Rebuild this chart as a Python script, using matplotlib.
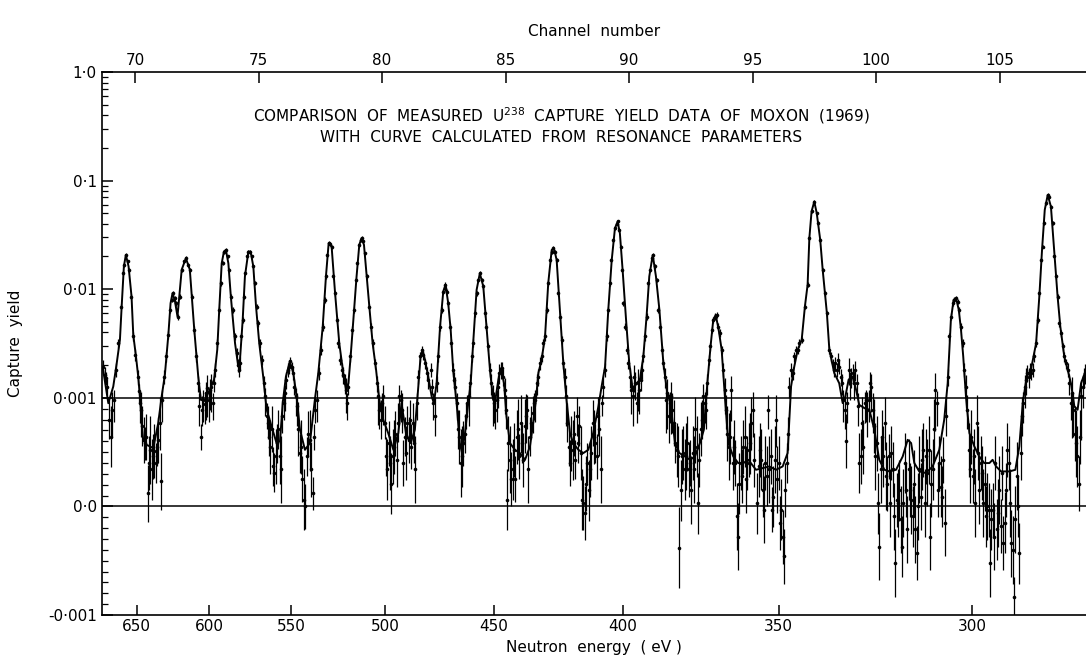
import numpy as np
import matplotlib
matplotlib.use("Agg")
import matplotlib.pyplot as plt

# calculated curve: channel number, capture yield (units of 1e-3)
curve_ch = [68.71, 68.92, 69.12, 69.26, 69.39, 69.46, 69.55, 69.63, 69.74, 69.86, 69.93, 70.04,
            70.13, 70.20, 70.27, 70.33, 70.47, 70.74, 70.94, 71.08, 71.21, 71.35, 71.44, 71.52,
            71.62, 71.72, 71.89, 72.06, 72.22, 72.40, 72.56, 72.67, 72.83, 73.03, 73.20, 73.33,
            73.41, 73.51, 73.60, 73.68, 73.78, 73.88, 74.05, 74.18, 74.25, 74.36, 74.45, 74.59,
            74.68, 74.79, 74.90, 75.03, 75.19, 75.33, 75.53, 75.73, 75.87, 75.98, 76.11, 76.27,
            76.41, 76.54, 76.68, 76.88, 77.08, 77.28, 77.42, 77.60, 77.73, 77.84, 77.96, 78.10,
            78.27, 78.43, 78.54, 78.64, 78.73, 78.87, 78.97, 79.08, 79.17, 79.27, 79.38, 79.51,
            79.62, 79.76, 79.89, 80.05, 80.25, 80.46, 80.66, 80.79, 80.97, 81.16, 81.33, 81.47,
            81.56, 81.64, 81.74, 81.87,
            82.01, 82.10, 82.21, 82.35, 82.48, 82.57, 82.68, 82.78, 82.88, 83.02, 83.15, 83.24,
            83.36, 83.49, 83.59, 83.69, 83.83, 83.96, 84.10, 84.23, 84.37, 84.50, 84.61, 84.71,
            84.81, 84.94, 85.04, 85.18, 85.38, 85.58, 85.79, 85.99, 86.12, 86.23, 86.33, 86.46,
            86.60, 86.73, 86.87, 86.96, 87.07, 87.21, 87.34, 87.47, 87.61, 87.74, 87.95, 88.15,
            88.35, 88.55, 88.76, 88.89, 89.03, 89.16, 89.30, 89.43, 89.54, 89.63, 89.74, 89.88,
            90.01, 90.15, 90.31, 90.44, 90.58, 90.71, 90.82, 90.96, 91.09, 91.23, 91.39, 91.55,
            91.68, 91.86, 92.04, 92.27, 92.47, 92.67, 92.87, 93.03, 93.17, 93.30, 93.41, 93.51,
            93.63, 93.75, 93.88, 94.02, 94.22, 94.42, 94.63, 94.83,
            95.14, 95.41, 95.68, 95.95, 96.22, 96.42, 96.56, 96.69, 96.83, 96.99, 97.12, 97.23,
            97.30, 97.39, 97.50, 97.60, 97.74, 97.84, 97.93, 98.01, 98.11, 98.31, 98.51, 98.65,
            98.76, 98.89, 99.05, 99.19, 99.32, 99.53, 99.73, 99.93, 100.13, 100.34, 100.54, 100.81,
            101.08, 101.28, 101.42, 101.55, 101.75, 102.02, 102.29, 102.56, 102.76, 102.90, 103.03,
            103.14, 103.24, 103.35, 103.44, 103.53, 103.64, 103.78, 103.98, 104.18, 104.38, 104.59,
            104.72, 104.86, 105.06, 105.40, 105.64, 105.80, 105.94, 106.10, 106.27, 106.48, 106.61,
            106.72, 106.83, 106.95, 107.08, 107.22, 107.35, 107.46, 107.62, 107.76, 107.89, 108.03,
            108.16, 108.30, 108.50]
curve_y = [1.81, 0.95, 1.27, 2.08, 3.42, 6.92, 16.2, 20.7, 16.2, 8.56, 3.80, 2.40,
           1.57, 1.03, 0.767, 0.613, 0.567, 0.537, 0.767, 1.03, 1.63, 3.80, 7.43, 9.19,
           7.7, 5.60, 15.1, 19.3, 15.1, 4.22, 1.57, 0.98, 0.98, 1.19, 1.47, 2.77,
           6.45, 17.3, 22.2, 23.0, 17.3, 8.56, 3.18, 1.94, 2.24, 5.22, 13.1, 22.2,
           22.2, 16.2, 6.92, 3.18, 1.57, 0.89, 0.736, 0.583, 0.60, 0.951, 1.57, 2.16,
           1.69, 1.03, 0.706, 0.521, 0.583, 0.98, 1.69, 4.53, 13.1, 26.5, 24.7, 9.19,
           3.18, 1.69, 1.19, 1.36, 2.40, 6.45, 13.1, 25.6, 29.5, 25.6, 13.1, 6.01,
           3.18, 1.81, 0.98, 0.798, 0.675, 0.521, 0.675, 0.951, 0.675, 0.583, 0.706, 1.27,
           2.40, 2.77, 2.24, 1.57,
           1.03, 0.951, 1.36, 4.53, 9.5, 11.0, 7.43, 4.22, 1.81, 0.951, 0.583, 0.491,
           0.675, 0.951, 1.36, 3.18, 9.86, 14.0, 10.6, 4.53, 1.81, 0.98, 1.03, 1.47,
           1.87, 1.36, 0.828, 0.583, 0.521, 0.491, 0.429, 0.552, 0.767, 0.98, 1.69, 2.24,
           3.67, 11.4, 23.0, 23.8, 18.6, 6.01, 2.08, 0.98, 0.675, 0.583, 0.521, 0.491,
           0.521, 0.675, 0.92, 1.27, 1.94, 6.45, 18.6, 36.4, 42.0, 32.7, 15.1, 5.22,
           2.08, 1.19, 1.36, 1.47, 2.40, 5.60, 13.1, 20.7, 13.1, 6.45, 2.08, 1.10,
           0.951, 0.583, 0.491, 0.460, 0.429, 0.460, 0.583, 0.706, 1.36, 2.97, 5.22, 5.80,
           4.22, 2.77, 1.03, 0.583, 0.460, 0.399, 0.399, 0.429,
           0.337, 0.353, 0.368, 0.337, 0.368, 0.491, 1.27, 1.94, 2.77, 3.42, 6.92, 11.0,
           29.5, 52.0, 64.1, 50.0, 28.5, 15.1, 9.19, 6.01, 2.77, 1.69, 1.36, 0.951,
           1.03, 1.47, 1.57, 1.19, 0.935, 0.905, 0.890, 0.706, 0.429, 0.337, 0.322, 0.337,
           0.460, 0.613, 0.583, 0.399, 0.322, 0.307, 0.368, 0.521, 0.798, 1.36, 5.22,
           7.98, 8.26, 6.45, 4.22, 2.40, 1.03, 0.675, 0.552, 0.460, 0.399, 0.399,
           0.429, 0.368, 0.322, 0.322, 0.337, 0.552, 0.951, 1.57, 1.81, 3.18, 8.56,
           23.0, 53.7, 73.8, 57.6, 21.4, 8.56, 4.53, 2.40, 1.81, 1.36, 0.92,
           0.89, 1.36, 1.81]

# measured points (Moxon 1969): channel, yield and error (units of 1e-3)
meas_ch = [68.71, 68.77, 68.83, 68.88, 68.94, 69.01, 69.07, 69.15, 69.23, 69.32, 69.43, 69.50,
           69.57, 69.63, 69.70, 69.77, 69.85, 69.93, 70.01, 70.11, 70.16, 70.22, 70.26, 70.30,
           70.35, 70.40, 70.46, 70.51, 70.57, 70.62, 70.67, 70.73, 70.78, 70.84, 70.89, 70.94,
           71.00, 71.04, 71.10, 71.18, 71.25, 71.33, 71.41, 71.48, 71.54, 71.60, 71.67, 71.74,
           71.82, 71.90, 71.98, 72.06, 72.14, 72.22, 72.31, 72.39, 72.47, 72.55, 72.60, 72.66,
           72.71, 72.76, 72.82, 72.87, 72.93, 72.98, 73.03, 73.09, 73.14, 73.20, 73.25, 73.33,
           73.41, 73.48, 73.55, 73.62, 73.68, 73.75, 73.82, 73.88, 73.95, 74.03, 74.11, 74.17,
           74.21, 74.26, 74.30, 74.36, 74.41, 74.46, 74.52, 74.59, 74.65, 74.72, 74.79, 74.86,
           74.92, 74.99, 75.06, 75.14, 75.22, 75.27, 75.33, 75.37, 75.42, 75.48, 75.53, 75.58,
           75.64, 75.69, 75.75, 75.80, 75.86, 75.91, 75.96, 76.02, 76.07, 76.13, 76.18, 76.23,
           76.29, 76.34, 76.40, 76.45, 76.50, 76.56, 76.61, 76.66, 76.72, 76.77, 76.83, 76.88,
           76.95, 77.02, 77.08, 77.14, 77.19, 77.25, 77.30, 77.35, 77.43, 77.51, 77.60, 77.68,
           77.73, 77.79, 77.84, 77.89, 77.96, 78.03, 78.10, 78.16, 78.23, 78.30, 78.38, 78.43,
           78.49, 78.54, 78.59, 78.63, 78.70, 78.78, 78.86, 78.95, 79.00, 79.08, 79.13, 79.19,
           79.24, 79.31, 79.38, 79.46, 79.54, 79.62, 79.70, 79.78, 79.84, 79.89, 79.94, 80.00,
           80.05, 80.11, 80.16, 80.21, 80.27, 80.32, 80.38, 80.43, 80.48, 80.54, 80.59, 80.65,
           80.70, 80.75, 80.81, 80.86, 80.92, 80.97, 81.02, 81.08, 81.13, 81.18, 81.24, 81.29,
           81.35, 81.40, 81.47, 81.54, 81.60, 81.67, 81.74, 81.81, 81.87,
           81.97, 82.02, 82.07, 82.13, 82.21, 82.28, 82.34, 82.41, 82.48, 82.53, 82.57, 82.63,
           82.68, 82.75, 82.80, 82.86, 82.91, 82.97, 83.02, 83.07, 83.13, 83.18, 83.24, 83.29,
           83.34, 83.40, 83.45, 83.51, 83.56, 83.63, 83.69, 83.76, 83.83, 83.90, 83.96, 84.03,
           84.10, 84.17, 84.23, 84.30, 84.37, 84.42, 84.48, 84.53, 84.59, 84.64, 84.69, 84.75,
           84.80, 84.85, 84.91, 84.96, 85.02, 85.07, 85.12, 85.18, 85.23, 85.29, 85.34, 85.39,
           85.45, 85.50, 85.56, 85.61, 85.66, 85.72, 85.77, 85.83, 85.88, 85.93, 85.99, 86.04,
           86.10, 86.15, 86.20, 86.26, 86.33, 86.39, 86.46, 86.53, 86.60, 86.66, 86.73, 86.80,
           86.87, 86.93, 87.00, 87.07, 87.14, 87.20, 87.27, 87.34, 87.39, 87.45, 87.50, 87.55,
           87.61, 87.66, 87.72, 87.77, 87.82, 87.88, 87.93, 87.99, 88.04, 88.09, 88.15, 88.20,
           88.26, 88.31, 88.36, 88.42, 88.47, 88.53, 88.58, 88.63, 88.69, 88.74, 88.80, 88.85,
           88.90, 88.96, 89.02, 89.09, 89.16, 89.23, 89.29, 89.36, 89.43, 89.50, 89.55, 89.61,
           89.66, 89.71, 89.77, 89.83, 89.90, 89.97, 90.04, 90.09, 90.15, 90.20, 90.25, 90.31,
           90.36, 90.41, 90.47, 90.52, 90.58, 90.64, 90.71, 90.78, 90.85, 90.91, 90.98, 91.05,
           91.12, 91.18, 91.25, 91.32, 91.39, 91.44, 91.49, 91.55, 91.60, 91.66, 91.71, 91.76,
           91.82, 91.87, 91.93, 91.98, 92.03, 92.09, 92.14, 92.20, 92.25, 92.30, 92.36, 92.41,
           92.47, 92.52, 92.57, 92.63, 92.68, 92.74, 92.79, 92.84, 92.90, 92.95, 93.01, 93.06,
           93.11, 93.17, 93.22, 93.28, 93.34, 93.41, 93.48, 93.55, 93.61, 93.68, 93.75, 93.82,
           93.87, 93.92, 93.98, 94.03, 94.09, 94.14, 94.19, 94.25, 94.30, 94.36, 94.41, 94.46,
           94.52, 94.57, 94.63, 94.68, 94.73, 94.79, 94.84, 94.90, 94.95, 95.00, 95.06,
           95.19, 95.25, 95.30, 95.36, 95.41, 95.46, 95.52, 95.57, 95.63, 95.68, 95.73, 95.79,
           95.84, 95.90, 95.95, 96.00, 96.06, 96.11, 96.17, 96.22, 96.27, 96.33, 96.38, 96.44,
           96.49, 96.56, 96.62, 96.69, 96.76, 96.83, 96.89, 96.99, 97.12, 97.23, 97.30, 97.39,
           97.50, 97.60, 97.66, 97.74, 97.84, 97.93, 98.01, 98.11, 98.18, 98.24, 98.30, 98.35,
           98.41, 98.46, 98.51, 98.57, 98.62, 98.68, 98.73, 98.78, 98.84, 98.89, 98.95, 99.00,
           99.05, 99.11, 99.16, 99.22, 99.27, 99.32, 99.38, 99.43, 99.49, 99.54, 99.59, 99.65,
           99.70, 99.76, 99.81, 99.86, 99.92, 99.97, 100.03, 100.08, 100.13, 100.19, 100.24,
           100.29, 100.35, 100.40, 100.46, 100.51, 100.56, 100.62, 100.67, 100.73, 100.78,
           100.83, 100.89, 100.94, 101.00, 101.05, 101.10, 101.16, 101.21, 101.27, 101.32,
           101.37, 101.43, 101.48, 101.54, 101.59, 101.64, 101.70, 101.75, 101.81, 101.86,
           101.91, 101.97, 102.02, 102.08, 102.13, 102.18, 102.24, 102.29, 102.35, 102.40,
           102.45, 102.51, 102.56, 102.62, 102.67, 102.72, 102.78, 102.83, 102.90, 102.97,
           103.03, 103.10, 103.17, 103.24, 103.30, 103.37, 103.44, 103.51, 103.57, 103.64,
           103.70, 103.75, 103.80, 103.86, 103.91, 103.97, 104.02, 104.07, 104.13, 104.18,
           104.24, 104.29, 104.34, 104.40, 104.45, 104.51, 104.56, 104.61, 104.67, 104.72,
           104.78, 104.83, 104.88, 104.94, 104.99, 105.05, 105.10, 105.15, 105.21, 105.26,
           105.32, 105.37, 105.42, 105.48, 105.53, 105.59, 105.64, 105.69, 105.75, 105.80,
           105.86, 105.91, 105.96, 106.02, 106.07, 106.12, 106.18, 106.23, 106.29, 106.34,
           106.41, 106.48, 106.54, 106.61, 106.68, 106.75, 106.81, 106.88, 106.95, 107.02,
           107.08, 107.15, 107.22, 107.29, 107.35, 107.42, 107.49, 107.56, 107.62, 107.69,
           107.76, 107.83, 107.88, 107.93, 107.99, 108.04, 108.10, 108.15, 108.20, 108.26,
           108.31, 108.37, 108.42, 108.47]
meas_y = [1.94, 1.63, 1.52, 1.27, 0.80, 0.64, 0.89, 0.98, 1.81, 3.18, 6.92, 14.0,
          16.7, 20.7, 18.0, 15.1, 8.56, 3.67, 2.49, 1.57, 1.15, 0.95, 0.89, 0.74,
          0.61, 0.58, 0.64, 0.12, 0.40, 0.52, 0.34, 0.46, 0.51, 0.40, 0.55, 0.61,
          0.77, 0.23, 0.98, 1.57, 2.40, 3.80, 6.45, 7.98, 9.19, 8.26, 7.43, 5.60,
          8.56, 15.1, 18.0, 19.3, 16.7, 15.1, 8.56, 4.22, 2.40, 1.36, 0.92, 0.64,
          0.89, 0.98, 0.94, 1.10, 1.22, 0.98, 1.19, 1.27, 0.95, 1.36, 1.81, 3.18,
          6.45, 11.4, 17.3, 22.2, 23.0, 20.0, 15.1, 8.56, 6.45, 3.67, 2.58, 2.01,
          1.81, 2.08, 3.67, 5.22, 8.56, 14.0, 20.0, 22.2, 22.2, 20.0, 16.2, 11.4,
          6.92, 4.86, 3.18, 2.24, 1.36, 1.03, 0.83, 0.77, 0.64, 0.55, 0.71, 0.37,
          0.31, 0.46, 0.58, 0.71, 0.46, 0.34, 0.83, 0.95, 1.10, 1.47, 1.81, 1.94,
          2.16, 1.94, 1.69, 1.27, 1.03, 0.92, 0.71, 0.49, 0.55, 0.25, 0.06, 0.0,
          0.46, 0.67, 0.61, 0.34, 0.12, 0.64, 0.89, 0.98, 1.69, 2.77, 4.53, 7.98,
          13.1, 20.7, 26.5, 26.0, 24.5, 13.1, 9.19, 5.22, 3.18, 2.24, 1.81, 1.63,
          1.36, 1.19, 0.95, 1.27, 2.40, 4.22, 6.45, 12.2, 17.3, 25.6, 28.5, 29.5,
          27.5, 21.4, 13.1, 6.92, 4.53, 3.18, 2.08, 1.36, 1.03, 0.89, 0.80, 0.95,
          1.03, 0.77, 0.46, 0.34, 0.58, 0.40, 0.21, 0.46, 0.55, 0.67, 0.43, 0.77,
          1.03, 0.98, 0.89, 0.40, 0.64, 0.49, 0.77, 0.61, 0.80, 0.55, 0.77, 0.58,
          0.34, 0.95, 1.57, 2.40, 2.77, 2.49, 2.08, 1.69, 1.47,
          1.81, 1.27, 0.95, 0.83, 1.36, 2.40, 4.53, 6.45, 9.5, 10.2, 11.0, 9.5,
          7.43, 4.53, 3.18, 1.81, 1.47, 1.27, 0.95, 0.71, 0.64, 0.40, 0.46, 0.58,
          0.67, 0.83, 0.95, 1.03, 1.36, 2.40, 3.18, 6.01, 9.19, 12.2, 14.0, 12.2,
          10.6, 6.01, 4.53, 2.97, 1.81, 1.36, 1.03, 0.95, 0.89, 0.98, 1.27, 1.69,
          1.81, 1.87, 1.57, 1.19, 0.89, 0.06, 0.58, 0.43, 0.25, 0.34, 0.52, 0.25,
          0.64, 0.71, 0.46, 0.77, 0.58, 0.43, 0.74, 0.83, 0.89, 0.34, 0.64, 0.77,
          0.86, 0.95, 0.98, 1.36, 1.57, 2.08, 2.40, 3.18, 3.67, 6.45, 11.4, 18.6,
          22.2, 23.8, 22.2, 18.6, 9.19, 5.60, 3.42, 2.08, 1.57, 1.03, 0.77, 0.55,
          0.40, 0.58, 0.52, 0.67, 0.43, 0.83, 0.58, 0.74, 0.49, 0.06, 0.03, -0.06,
          0.21, 0.40, 0.15, 0.34, 0.49, 0.77, 0.64, 0.58, 0.46, 0.83, 0.71, 0.34,
          0.95, 1.27, 1.81, 3.67, 6.45, 11.4, 18.6, 28.5, 36.4, 40.0, 42.0, 35.0,
          24.7, 15.1, 7.43, 4.53, 2.77, 2.08, 1.57, 1.19, 1.03, 1.57, 1.36, 0.95,
          1.36, 1.19, 1.47, 1.81, 2.40, 3.67, 5.60, 11.4, 15.1, 19.3, 20.7, 16.2,
          12.2, 6.45, 4.53, 2.77, 2.08, 1.57, 0.98, 1.10, 0.83, 0.95, 1.03, 0.89,
          0.77, 0.58, 0.52, 0.46, -0.38, 0.15, 0.46, 0.49, 0.34, 0.46, 0.58, 0.34,
          0.40, 0.15, 0.49, 0.34, 0.71, 0.55, 0.03, 0.43, 0.71, 0.80, 1.03, 0.95,
          0.89, 1.36, 2.24, 2.97, 4.22, 5.22, 5.60, 5.80, 4.53, 3.94, 2.77, 1.81,
          1.19, 0.89, 0.67, 0.55, 0.64, 1.19, 0.40, 0.55, 0.40, -0.09, -0.28, 0.21,
          0.40, 0.28, 0.55, 0.64, 0.25, 0.40, 0.52, 0.58, 0.77, 0.89, 0.43,
          0.03, 0.37, 0.52, 0.43, 0.15, -0.03, 0.40, 0.28, 0.89, 0.34, 0.46, -0.03,
          0.09, 0.43, 0.80, 0.25, 0.40, -0.15, -0.03, -0.28, -0.46, 0.15, 0.40, 0.67,
          1.27, 1.81, 1.69, 2.40, 2.77, 2.77, 3.18, 3.42, 6.92, 11.0, 29.5, 52.0,
          64.1, 50.0, 40.6, 28.5, 15.1, 9.19, 6.01, 2.77, 2.40, 2.08, 1.81, 2.08,
          1.81, 2.24, 1.94, 1.57, 1.36, 0.98, 0.89, 0.60, 0.95, 1.81, 1.36, 1.57,
          1.69, 1.36, 1.81, 1.36, 0.92, 0.40, 0.46, 0.77, 0.55, 0.95, 0.98, 0.89,
          0.98, 1.36, 1.27, 0.89, 0.74, 0.46, 0.58, 0.03, -0.37, 0.34, 0.64,
          0.46, 0.77, 0.28, 0.21, 0.46, 0.03, 0.49, 0.34, -0.09, -0.52,
          0.06, 0.03, 0.15, -0.12, -0.37, 0.03, 0.40, 0.15, -0.21, 0.34,
          0.15, 0.06, -0.09, 0.21, -0.21, -0.43, 0.0, 0.34, 0.09, 0.43,
          0.52, 0.03, 0.46, 0.31, 0.52, -0.28, 0.21, 0.34, 0.71, 1.19,
          0.95, 0.15, 0.40, 0.18, 0.09, 0.43, -0.15, 0.83, 1.57, 3.67,
          5.60, 7.43, 7.98, 8.26, 7.7, 6.45, 4.53, 3.18, 1.81, 1.27,
          0.89, 0.52, 0.34, 0.64, 0.28, 0.46, 0.03, 0.77, 0.49, 0.15,
          0.40, 0.31, 0.03, 0.21, -0.09, 0.0, -0.03, -0.52, -0.12, -0.03,
          -0.28, 0.40, -0.21, -0.06, 0.15, -0.18, 0.31, -0.34, -0.15, 0.15,
          0.52, 0.40, 0.03, -0.34, -0.40, -0.83, -0.12, 0.28, 0.0, -0.43,
          0.49, 0.83, 0.95, 1.27, 1.47, 1.69, 1.57, 1.81, 1.69, 1.81,
          2.40, 3.18, 5.22, 9.19, 18.6, 24.7, 40.6, 62.0, 73.8, 71.2,
          57.6, 40.6, 20.0, 13.1, 8.56, 4.86, 3.94, 2.97, 2.40, 2.08,
          1.81, 1.36, 0.95, 1.10, 0.89, 0.67, 0.58, 0.46, 0.21, 0.64,
          1.03, 1.27, 1.57, 1.69]
meas_err = [0.27, 0.29, 0.21, 0.22, 0.18, 0.28, 0.25, 0.2, 0.26, 0.3, 0.4, 0.6,
            0.7, 0.8, 0.7, 0.6, 0.5, 0.35, 0.3, 0.25, 0.2, 0.18, 0.25, 0.18,
            0.21, 0.15, 0.21, 0.26, 0.25, 0.31, 0.28, 0.21, 0.25, 0.18, 0.18, 0.21,
            0.25, 0.26, 0.2, 0.22, 0.25, 0.3, 0.4, 0.4, 0.45, 0.4, 0.4, 0.35,
            0.4, 0.6, 0.7, 0.7, 0.6, 0.6, 0.45, 0.35, 0.25, 0.24, 0.18, 0.12,
            0.15, 0.2, 0.18, 0.3, 0.4, 0.2, 0.3, 0.4, 0.15, 0.24, 0.26, 0.27,
            0.45, 0.6, 0.7, 0.9, 0.9, 0.8, 0.6, 0.45, 0.4, 0.3, 0.27, 0.28,
            0.26, 0.29, 0.3, 0.35, 0.45, 0.6, 0.8, 0.9, 0.9, 0.8, 0.6, 0.5,
            0.4, 0.35, 0.28, 0.25, 0.24, 0.2, 0.12, 0.15, 0.18, 0.25, 0.21, 0.18,
            0.18, 0.25, 0.18, 0.18, 0.25, 0.31, 0.15, 0.15, 0.22, 0.26, 0.26, 0.27,
            0.23, 0.2, 0.24, 0.22, 0.2, 0.18, 0.25, 0.18, 0.25, 0.21, 0.28, 0.21,
            0.18, 0.21, 0.28, 0.25, 0.15, 0.12, 0.12, 0.2, 0.24, 0.3, 0.38, 0.45,
            0.6, 0.8, 1.0, 1.0, 0.9, 0.6, 0.45, 0.35, 0.28, 0.25, 0.26, 0.28,
            0.28, 0.33, 0.15, 0.22, 0.25, 0.35, 0.45, 0.6, 0.7, 1.0, 1.1, 1.1,
            1.0, 0.8, 0.6, 0.4, 0.38, 0.28, 0.22, 0.24, 0.28, 0.18, 0.18, 0.15,
            0.28, 0.15, 0.18, 0.28, 0.21, 0.25, 0.28, 0.25, 0.25, 0.21, 0.25, 0.18,
            0.28, 0.2, 0.21, 0.21, 0.18, 0.25, 0.15, 0.21, 0.18, 0.21, 0.18, 0.18,
            0.31, 0.15, 0.22, 0.25, 0.25, 0.26, 0.22, 0.24, 0.26,
            0.26, 0.22, 0.15, 0.18, 0.24, 0.25, 0.38, 0.45, 0.5, 0.5, 0.6, 0.5,
            0.4, 0.32, 0.27, 0.26, 0.26, 0.27, 0.15, 0.18, 0.25, 0.31, 0.28, 0.21,
            0.18, 0.12, 0.12, 0.29, 0.29, 0.25, 0.27, 0.42, 0.5, 0.6, 0.6, 0.5,
            0.5, 0.42, 0.32, 0.25, 0.26, 0.29, 0.29, 0.18, 0.18, 0.2, 0.36, 0.36,
            0.32, 0.26, 0.28, 0.34, 0.18, 0.28, 0.25, 0.31, 0.25, 0.28, 0.25, 0.21,
            0.25, 0.28, 0.21, 0.28, 0.18, 0.25, 0.25, 0.25, 0.18, 0.31, 0.18, 0.15,
            0.18, 0.15, 0.2, 0.29, 0.28, 0.29, 0.25, 0.27, 0.31, 0.45, 0.6, 0.8,
            0.9, 1.0, 0.9, 0.8, 0.5, 0.4, 0.29, 0.22, 0.33, 0.29, 0.18, 0.18,
            0.21, 0.25, 0.28, 0.21, 0.18, 0.18, 0.18, 0.18, 0.25, 0.28, 0.25, 0.25,
            0.25, 0.18, 0.28, 0.25, 0.25, 0.21, 0.25, 0.18, 0.21, 0.18, 0.25, 0.31,
            0.12, 0.27, 0.26, 0.31, 0.45, 0.6, 0.8, 1.2, 1.3, 1.4, 1.5, 1.2,
            1.0, 0.6, 0.4, 0.32, 0.23, 0.22, 0.33, 0.34, 0.29, 0.44, 0.38, 0.18,
            0.48, 0.34, 0.31, 0.32, 0.25, 0.31, 0.4, 0.6, 0.6, 0.8, 0.9, 0.7,
            0.6, 0.45, 0.32, 0.23, 0.22, 0.33, 0.3, 0.39, 0.25, 0.18, 0.36, 0.21,
            0.21, 0.18, 0.25, 0.28, 0.37, 0.28, 0.25, 0.25, 0.28, 0.31, 0.25, 0.25,
            0.21, 0.31, 0.25, 0.31, 0.31, 0.28, 0.28, 0.25, 0.25, 0.18, 0.3, 0.18,
            0.18, 0.29, 0.24, 0.25, 0.3, 0.37, 0.4, 0.4, 0.32, 0.33, 0.23, 0.26,
            0.34, 0.18, 0.25, 0.31, 0.25, 0.4, 0.25, 0.25, 0.21, 0.31, 0.31, 0.28,
            0.25, 0.25, 0.25, 0.28, 0.31, 0.25, 0.25, 0.28, 0.25, 0.25, 0.25,
            0.28, 0.28, 0.25, 0.28, 0.25, 0.31, 0.25, 0.28, 0.18, 0.31, 0.25, 0.21,
            0.28, 0.31, 0.25, 0.31, 0.25, 0.25, 0.28, 0.25, 0.25, 0.25, 0.18, 0.15,
            0.27, 0.26, 0.24, 0.25, 0.23, 0.23, 0.27, 0.24, 0.4, 0.6, 1.2, 1.8,
            2.2, 1.8, 1.4, 1.2, 0.6, 0.5, 0.35, 0.23, 0.25, 0.22, 0.26, 0.29,
            0.26, 0.32, 0.27, 0.28, 0.29, 0.2, 0.18, 0.25, 0.18, 0.5, 0.38, 0.33,
            0.36, 0.38, 0.38, 0.29, 0.18, 0.28, 0.25, 0.25, 0.25, 0.18, 0.2, 0.25,
            0.2, 0.38, 0.4, 0.21, 0.25, 0.31, 0.25, 0.28, 0.31, 0.31, 0.25,
            0.28, 0.25, 0.31, 0.25, 0.21, 0.31, 0.25, 0.25, 0.31, 0.31,
            0.25, 0.31, 0.28, 0.31, 0.28, 0.31, 0.28, 0.25, 0.31, 0.28,
            0.25, 0.31, 0.28, 0.31, 0.31, 0.25, 0.31, 0.31, 0.31, 0.28,
            0.25, 0.31, 0.25, 0.31, 0.31, 0.31, 0.31, 0.28, 0.28, 0.5,
            0.21, 0.25, 0.25, 0.28, 0.28, 0.21, 0.31, 0.18, 0.28, 0.31,
            0.4, 0.4, 0.45, 0.45, 0.43, 0.36, 0.32, 0.27, 0.26, 0.36,
            0.18, 0.25, 0.31, 0.25, 0.25, 0.25, 0.31, 0.28, 0.25, 0.31,
            0.25, 0.25, 0.31, 0.25, 0.28, 0.31, 0.25, 0.31, 0.28, 0.25,
            0.31, 0.25, 0.28, 0.31, 0.31, 0.25, 0.25, 0.25, 0.28, 0.25,
            0.25, 0.25, 0.31, 0.31, 0.31, 0.18, 0.31, 0.31, 0.28, 0.28,
            0.25, 0.18, 0.18, 0.36, 0.42, 0.3, 0.33, 0.26, 0.24, 0.26,
            0.25, 0.27, 0.37, 0.5, 0.8, 1.0, 1.4, 2.2, 2.6, 2.5,
            2.0, 1.4, 0.8, 0.7, 0.5, 0.34, 0.28, 0.25, 0.25, 0.22,
            0.26, 0.29, 0.15, 0.47, 0.25, 0.25, 0.31, 0.28, 0.25, 0.25,
            0.42, 0.36, 0.33, 0.36]

channel_ticks = [70, 75, 80, 85, 90, 95, 100, 105]
energy_ticks = [650, 600, 550, 500, 450, 400, 350, 300]
yield_ticks = [-0.001, 0.0, 0.001, 0.01, 0.1, 1.0]
yield_labels = ['-0·001', '0·0', '0·001', '0·01', '0·1', '1·0']


def fwd(y):
    # log above 0.001, linear (one decade per 0.001) below it
    y = np.asarray(y, dtype=float)
    return np.where(y >= 1e-3, np.log10(np.maximum(y, 1e-3) / 1e-3), y / 1e-3 - 1.0)


def inv(u):
    u = np.asarray(u, dtype=float)
    return np.where(u >= 0, 1e-3 * 10.0 ** np.clip(u, 0, 10), (u + 1.0) * 1e-3)


def ch_to_e(ch):
    ch = np.asarray(ch, dtype=float)
    return (1826.8 / np.maximum(ch + 1.583, 1e-6)) ** 2


def e_to_ch(e):
    e = np.asarray(e, dtype=float)
    return 1826.8 / np.sqrt(np.maximum(e, 1e-6)) - 1.583


fig = plt.figure(figsize=(10.86, 6.64), dpi=100)
ax = fig.add_axes([0.0936, 0.0738, 0.9064, 0.8178])
ax.set_yscale('function', functions=(fwd, inv))

ax.axhline(1e-3, color='black', lw=1.1, zorder=1)
ax.axhline(0.0, color='black', lw=1.1, zorder=1)

my = np.array(meas_y) * 1e-3
me = np.array(meas_err) * 1e-3
ax.errorbar(meas_ch, my, yerr=me, fmt='o', ms=2.6, mew=0, color='black',
            ecolor='black', elinewidth=0.9, capsize=0, zorder=2)
ax.plot(curve_ch, np.array(curve_y) * 1e-3, color='black', lw=1.4, zorder=3)

ax.set_xlim(68.65, 108.5)
ax.set_ylim(-0.001, 1.0)

# y ticks
ax.set_yticks(yield_ticks)
ax.set_yticklabels(yield_labels)
minor = [k * 10.0 ** d for d in (-3, -2, -1) for k in range(2, 10)]
minor += [i * 1e-4 for i in range(-9, 10) if i != 0]
ax.set_yticks(minor, minor=True)

# channel number on top
ax.xaxis.set_ticks_position('top')
ax.xaxis.set_label_position('top')
ax.set_xticks(channel_ticks)
ax.set_xlabel('Channel  number', fontsize=11, labelpad=12)

# neutron energy on bottom
sec = ax.secondary_xaxis('bottom', functions=(ch_to_e, e_to_ch))
sec.set_xticks(energy_ticks)
sec.set_xlabel('Neutron  energy  ( eV )', fontsize=11, labelpad=4)
sec.tick_params(direction='in', length=7, width=1.1, labelsize=11, pad=3)

ax.set_ylabel('Capture  yield', fontsize=11, labelpad=18)
ax.tick_params(axis='both', which='major', direction='in', length=8, width=1.1,
               labelsize=11)
ax.tick_params(axis='y', which='minor', direction='in', length=4, width=0.9)
ax.tick_params(axis='x', which='major', pad=3)

for side in ('left', 'top'):
    ax.spines[side].set_linewidth(1.2)
ax.spines['right'].set_visible(False)
ax.spines['bottom'].set_visible(False)
sec.spines['bottom'].set_linewidth(1.2)

ax.text(0.467, 0.92,
        'COMPARISON  OF  MEASURED  U$^{238}$  CAPTURE  YIELD  DATA  OF  MOXON  (1969)',
        transform=ax.transAxes, ha='center', va='center', fontsize=11)
ax.text(0.467, 0.88,
        'WITH  CURVE  CALCULATED  FROM  RESONANCE  PARAMETERS',
        transform=ax.transAxes, ha='center', va='center', fontsize=11)

fig.savefig('out.png', dpi=100)
